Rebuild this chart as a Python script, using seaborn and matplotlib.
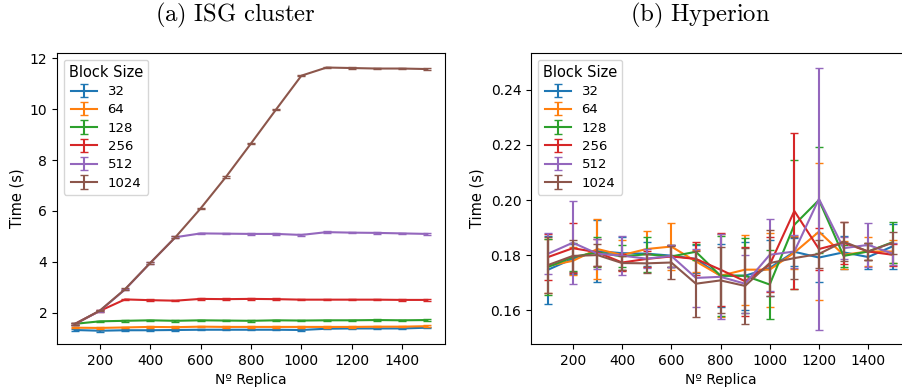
import numpy as np
import pandas as pd
import matplotlib
matplotlib.use("Agg")
import matplotlib.pyplot as plt
import seaborn as sns
from matplotlib.container import ErrorbarContainer

# ---------------- data ----------------
replicas = [100, 200, 300, 400, 500, 600, 700, 800, 900, 1000, 1100, 1200, 1300, 1400, 1500]
block_sizes = [32, 64, 128, 256, 512, 1024]

# (a) ISG cluster, mean time (s)
isg_32 = [1.33, 1.30, 1.32, 1.32, 1.33, 1.34, 1.34, 1.34, 1.34, 1.33, 1.38, 1.39, 1.39, 1.39, 1.42]
isg_64 = [1.42, 1.41, 1.43, 1.45, 1.44, 1.46, 1.45, 1.45, 1.45, 1.45, 1.45, 1.45, 1.46, 1.46, 1.48]
isg_128 = [1.57, 1.67, 1.69, 1.71, 1.69, 1.71, 1.70, 1.69, 1.71, 1.70, 1.71, 1.71, 1.72, 1.71, 1.72]
isg_256 = [1.56, 2.08, 2.53, 2.50, 2.48, 2.55, 2.54, 2.55, 2.54, 2.52, 2.52, 2.52, 2.52, 2.51, 2.51]
isg_512 = [1.56, 2.08, 2.92, 3.96, 4.97, 5.12, 5.11, 5.10, 5.10, 5.06, 5.17, 5.15, 5.14, 5.12, 5.10]
isg_1024 = [1.56, 2.09, 2.93, 3.96, 4.97, 6.10, 7.33, 8.65, 9.99, 11.31, 11.63, 11.61, 11.59, 11.59, 11.57]
isg_err = [0.03, 0.03, 0.03, 0.03, 0.03, 0.03, 0.03, 0.03, 0.03, 0.03, 0.03, 0.03, 0.03, 0.03, 0.03]

# (b) Hyperion, mean time (s)
hyp_32 = [0.1747, 0.1787, 0.1814, 0.1807, 0.1805, 0.1798, 0.1786, 0.1725, 0.1725, 0.1753, 0.1812, 0.1791, 0.1810, 0.1793, 0.1832]
hyp_64 = [0.1761, 0.1779, 0.1822, 0.1800, 0.1822, 0.1831, 0.1777, 0.1725, 0.1747, 0.1747, 0.1809, 0.1885, 0.1801, 0.1813, 0.1813]
hyp_128 = [0.1757, 0.1793, 0.1810, 0.1795, 0.1803, 0.1795, 0.1812, 0.1725, 0.1725, 0.1693, 0.1910, 0.2000, 0.1797, 0.1813, 0.1847]
hyp_256 = [0.1793, 0.1825, 0.1810, 0.1773, 0.1786, 0.1795, 0.1786, 0.1747, 0.1705, 0.1765, 0.1960, 0.1822, 0.1845, 0.1813, 0.1801]
hyp_512 = [0.1805, 0.1845, 0.1805, 0.1798, 0.1787, 0.1797, 0.1717, 0.1721, 0.1696, 0.1801, 0.1813, 0.2004, 0.1825, 0.1837, 0.1805]
hyp_1024 = [0.1764, 0.1797, 0.1800, 0.1771, 0.1770, 0.1773, 0.1696, 0.1708, 0.1688, 0.1771, 0.1789, 0.1804, 0.1849, 0.1813, 0.1845]

hyp_err_32 = [0.0123, 0.0055, 0.0113, 0.0060, 0.0044, 0.0040, 0.0050, 0.0115, 0.0124, 0.0100, 0.0050, 0.0090, 0.0060, 0.0042, 0.0081]
hyp_err_64 = [0.0097, 0.0050, 0.0110, 0.0053, 0.0067, 0.0084, 0.0040, 0.0150, 0.0127, 0.0135, 0.0060, 0.0249, 0.0050, 0.0053, 0.0040]
hyp_err_128 = [0.0101, 0.0050, 0.0055, 0.0040, 0.0064, 0.0040, 0.0030, 0.0146, 0.0136, 0.0126, 0.0235, 0.0192, 0.0040, 0.0030, 0.0074]
hyp_err_256 = [0.0085, 0.0090, 0.0050, 0.0030, 0.0030, 0.0040, 0.0060, 0.0133, 0.0125, 0.0100, 0.0282, 0.0078, 0.0076, 0.0030, 0.0040]
hyp_err_512 = [0.0074, 0.0150, 0.0055, 0.0070, 0.0035, 0.0040, 0.0105, 0.0155, 0.0105, 0.0130, 0.0060, 0.0477, 0.0040, 0.0080, 0.0040]
hyp_err_1024 = [0.0100, 0.0058, 0.0040, 0.0025, 0.0035, 0.0060, 0.0120, 0.0120, 0.0138, 0.0120, 0.0075, 0.0050, 0.0070, 0.0030, 0.0040]

isg_means = [isg_32, isg_64, isg_128, isg_256, isg_512, isg_1024]
isg_errs = [isg_err] * 6
hyp_means = [hyp_32, hyp_64, hyp_128, hyp_256, hyp_512, hyp_1024]
hyp_errs = [hyp_err_32, hyp_err_64, hyp_err_128, hyp_err_256, hyp_err_512, hyp_err_1024]

titles = ["(a) ISG cluster", "(b) Hyperion"]
x_label = "Nº Replica"
y_label = "Time (s)"
legend_title = "Block Size"

# ---------------- plotting ----------------
plt.rcParams["mathtext.fontset"] = "cm"
palette = sns.color_palette("tab10", len(block_sizes))

fig = plt.figure(figsize=(9.02, 3.89), dpi=100)
ax_a = fig.add_axes([57 / 902, 1 - 344 / 389, 388 / 902, 291 / 389])
ax_b = fig.add_axes([531 / 902, 1 - 344 / 389, 379 / 902, 291 / 389])


def draw(ax, means, errs):
    handles = []
    for b, m, e, c in zip(block_sizes, means, errs, palette):
        df = pd.DataFrame({"replica": replicas, "time": m})
        sns.lineplot(data=df, x="replica", y="time", color=c, ax=ax,
                     legend=False, errorbar=None, linewidth=1.5)
        line = ax.lines[-1]
        eb = ax.errorbar(replicas, m, yerr=e, fmt="none", ecolor=c,
                         elinewidth=1.5, capsize=3, capthick=1.0)
        h = ErrorbarContainer((line, eb.lines[1], eb.lines[2]),
                              has_xerr=False, has_yerr=True, label=str(b))
        handles.append(h)
    ax.legend(handles=handles, title=legend_title, loc="upper left",
              fontsize=9.5, title_fontsize=10.5, labelspacing=0.4)
    ax.set_xlabel(x_label, fontsize=10)
    ax.set_ylabel(y_label, fontsize=10.5)
    ax.tick_params(labelsize=10)
    ax.set_xticks([200, 400, 600, 800, 1000, 1200, 1400])


draw(ax_a, isg_means, isg_errs)
draw(ax_b, hyp_means, hyp_errs)

ax_a.set_xlim(30, 1570)
ax_a.set_ylim(0.78, 12.2)
ax_a.set_yticks([2, 4, 6, 8, 10, 12])
ax_b.set_xlim(30, 1570)
ax_b.set_ylim(0.1477, 0.2534)
ax_b.set_yticks([0.16, 0.18, 0.20, 0.22, 0.24])
ax_b.set_yticklabels(["0.16", "0.18", "0.20", "0.22", "0.24"])

fig.text(235 / 902, 1 - 15 / 389, r"$\mathrm{(a)\ ISG\ cluster}$",
         ha="center", va="center", fontsize=17.8)
fig.text(700 / 902, 1 - 15 / 389, r"$\mathrm{(b)\ Hyperion}$",
         ha="center", va="center", fontsize=17.8)

fig.savefig("out.png", dpi=100)
